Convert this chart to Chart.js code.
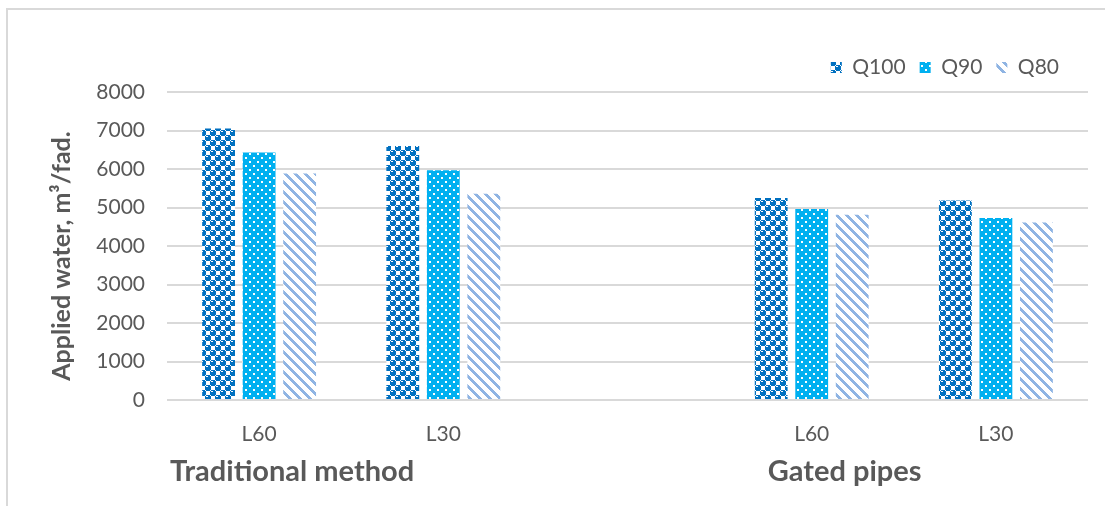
<!DOCTYPE html>
<html>
<head>
<meta charset="utf-8">
<title>Applied water</title>
<script src="https://cdn.jsdelivr.net/npm/chart.js@4/dist/chart.umd.min.js"></script>
<style>
  html, body { margin: 0; padding: 0; background: #ffffff; }
  #wrap { width: 1105px; height: 506px; position: relative; }
</style>
</head>
<body>
<div id="wrap"><canvas id="c" width="1105" height="506"></canvas></div>
<script>
// Categories (the empty one separates the two irrigation methods)
const categories = ["L60", "L30", "", "L60", "L30"];
const seriesNames = ["Q100", "Q90", "Q80"];

// Applied water, m3/fad.
const q100 = [7050, 6600, null, 5250, 5180];
const q90  = [6430, 5970, null, 4960, 4730];
const q80  = [5880, 5360, null, 4810, 4610];

const yTickValues = [0, 1000, 2000, 3000, 4000, 5000, 6000, 7000, 8000];

const groupTitles = ["Traditional method", "Gated pipes"];
const groupStarts = [0, 3];
const yTitle = "Applied water, m\u00B3/fad.";

const TEXT = "#595959";
const FONT = "Lato";

// ---- fill patterns ----
function makeTile(w, h, paint) {
  const c = document.createElement("canvas");
  c.width = w; c.height = h;
  paint(c.getContext("2d"), w, h);
  return c;
}
const ctx = document.getElementById("c").getContext("2d");

// dark "sphere" checker
const spherePattern = ctx.createPattern(makeTile(10, 10, (g) => {
  g.fillStyle = "#ffffff"; g.fillRect(0, 0, 10, 10);
  const blob = (x, y) => {
    g.fillStyle = "#0070C0";
    g.fillRect(x + 1, y, 4, 6);
    g.fillRect(x, y + 1, 6, 4);
    g.fillStyle = "#ffffff";
    g.fillRect(x + 1, y + 1, 2, 1);
  };
  [[0, 0], [5, 5], [-5, 5], [5, -5], [-5, -5]].forEach(p => blob(p[0], p[1]));
}), "repeat");

// bright blue with white dots
const dotPattern = ctx.createPattern(makeTile(8, 8, (g) => {
  g.fillStyle = "#00B0F0"; g.fillRect(0, 0, 8, 8);
  g.fillStyle = "#ffffff";
  g.fillRect(1, 1, 2, 2);
  g.fillRect(5, 5, 2, 2);
}), "repeat");

// light blue wide downward diagonal
const stripePattern = ctx.createPattern(makeTile(10, 10, (g) => {
  g.fillStyle = "#ffffff"; g.fillRect(0, 0, 10, 10);
  g.fillStyle = "#8FB4E3";
  for (let y = 0; y < 10; y++) {
    for (let x = 0; x < 10; x++) {
      const d = ((x - y) % 10 + 10) % 10;
      if (d < 4) g.fillRect(x, y, 1, 1);
    }
  }
}), "repeat");

// ---- plugins ----
const frameAndTitles = {
  id: "frameAndTitles",
  beforeDraw(chart) {
    const g = chart.ctx;
    g.save();
    g.fillStyle = "#ffffff";
    g.fillRect(0, 0, chart.width, chart.height);
    g.fillStyle = "#D9D9D9";
    g.fillRect(6, 8, chart.width - 6, 2);
    g.fillRect(6, 8, 2, chart.height - 8);
    g.restore();
  },
  afterDraw(chart) {
    const g = chart.ctx, xs = chart.scales.x, area = chart.chartArea;
    g.save();
    g.fillStyle = TEXT;
    g.textAlign = "center";
    g.textBaseline = "middle";
    g.font = "bold 29px " + FONT;
    groupTitles.forEach((t, i) => {
      g.fillText(t, xs.getPixelForValue(groupStarts[i]) + 33, 472);
    });
    g.translate(62, (area.top + area.bottom) / 2 + 10);
    g.rotate(-Math.PI / 2);
    g.font = "bold 25px " + FONT;
    g.fillText(yTitle, 0, 0);
    g.restore();
  }
};

// legend spacing: a little extra room below it, and pulled in from the right edge
const legendPlacement = {
  id: "legendPlacement",
  beforeLayout(chart) {
    const lg = chart.legend;
    if (lg && !lg._gapAdded) {
      const fit = lg.fit;
      lg.fit = function () { fit.call(this); this.height += 4; };
      lg._gapAdded = true;
    }
  },
  afterLayout(chart) {
    const lg = chart.legend;
    if (lg) { lg.left -= 15; lg.right -= 15; }
  }
};

const barOpts = { borderWidth: 0, categoryPercentage: 0.66, barPercentage: 0.81 };

new Chart(ctx, {
  type: "bar",
  data: {
    labels: categories,
    datasets: [
      Object.assign({ label: seriesNames[0], data: q100, backgroundColor: spherePattern }, barOpts),
      Object.assign({ label: seriesNames[1], data: q90, backgroundColor: dotPattern }, barOpts),
      Object.assign({ label: seriesNames[2], data: q80, backgroundColor: stripePattern }, barOpts)
    ]
  },
  options: {
    responsive: false,
    animation: false,
    devicePixelRatio: 1,
    layout: { padding: { left: 0, right: 17, top: 43, bottom: 0 } },
    plugins: {
      legend: {
        position: "top",
        align: "end",
        labels: {
          boxWidth: 11, boxHeight: 11, padding: 14,
          color: TEXT, font: { family: FONT, size: 21 }
        }
      },
      tooltip: { enabled: false }
    },
    scales: {
      x: {
        grid: { display: false, drawTicks: false },
        border: { display: false },
        ticks: { color: TEXT, font: { family: FONT, size: 21 }, padding: 22, maxRotation: 0, autoSkip: false },
        afterFit(s) { s.height = 106; }
      },
      y: {
        min: yTickValues[0],
        max: yTickValues[yTickValues.length - 1],
        afterBuildTicks(s) { s.ticks = yTickValues.map(v => ({ value: v })); },
        ticks: { color: TEXT, font: { family: FONT, size: 21 }, padding: 22, callback: v => String(v) },
        grid: { color: "#D9D9D9", lineWidth: 2, drawTicks: false },
        border: { display: false },
        afterFit(s) { s.width = 167; }
      }
    }
  },
  plugins: [frameAndTitles, legendPlacement]
});
</script>
</body>
</html>
